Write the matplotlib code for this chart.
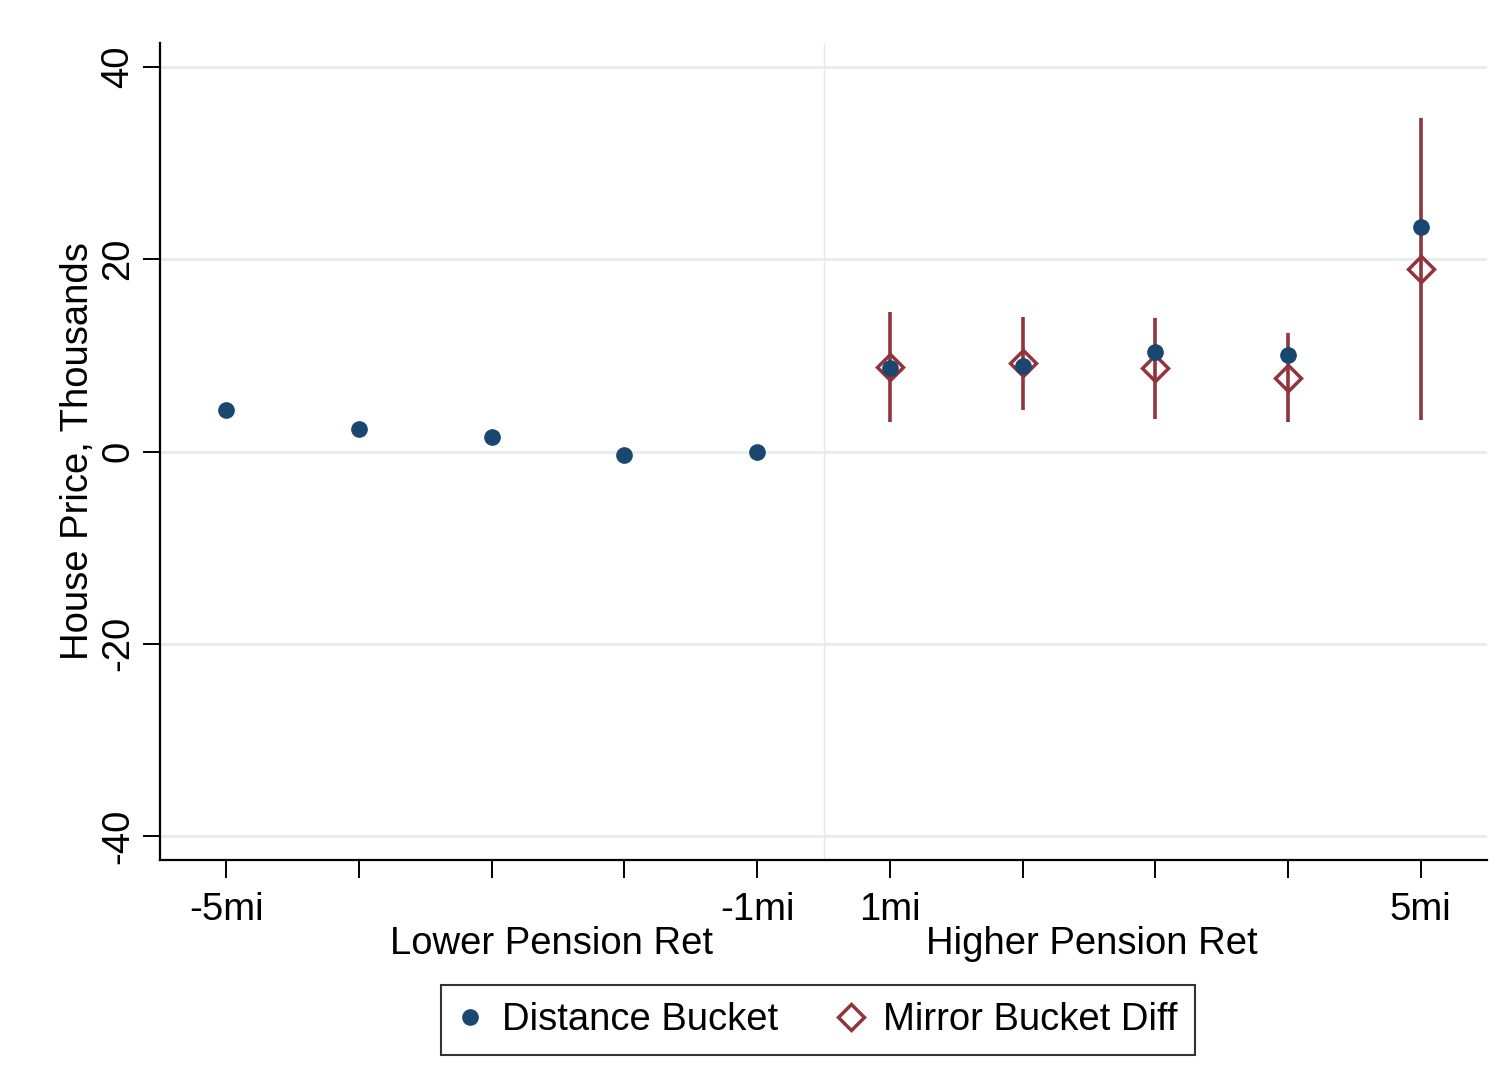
import numpy as np
import matplotlib.pyplot as plt
from matplotlib.transforms import blended_transform_factory

plt.rcParams['font.family'] = ['Liberation Sans', 'DejaVu Sans']

# данные
bucket_labels = ['-5mi', '', '', '', '-1mi', '1mi', '', '', '', '5mi']
distance_bucket = [4.3, 2.3, 1.5, -0.35, -0.05, 8.7, 8.85, 10.3, 10.0, 23.35]
mirror_pos = [6, 7, 8, 9, 10]
mirror_diff = [8.8, 9.2, 8.7, 7.6, 19.0]
mirror_lo = [3.05, 4.3, 3.4, 3.05, 3.3]
mirror_hi = [14.5, 14.0, 13.9, 12.3, 34.65]
y_ticks = [-40, -20, 0, 20, 40]

navy = '#1a476f'
maroon = '#90353b'
fs = 27.5

x = np.arange(1, len(distance_bucket) + 1)

fig = plt.figure(figsize=(15.12, 10.92), dpi=100)
ax = fig.add_axes([160/1512, 1 - 860/1092, (1487 - 160)/1512, (860 - 43)/1092])

# сетка
for yt in y_ticks:
    ax.axhline(yt, color='#e6eef0', lw=2, zorder=0)
ax.axvline(5.5, color='#e3e8ea', lw=1, zorder=0)

# доверительные интервалы, ромбы, точки
ax.vlines(mirror_pos, mirror_lo, mirror_hi, color=maroon, lw=2.6, zorder=2)
ax.plot(mirror_pos, mirror_diff, linestyle='none', marker='D', markersize=13.5,
        markerfacecolor='none', markeredgecolor=maroon, markeredgewidth=2.5,
        zorder=3, label='Mirror Bucket Diff')
ax.plot(x, distance_bucket, linestyle='none', marker='o', markersize=11,
        color=navy, zorder=4, label='Distance Bucket')

ax.set_xlim(0.5, 10.5)
ax.set_ylim(-42.5, 42.5)
ax.set_xticks(x)
ax.set_xticklabels(bucket_labels)
ax.set_yticks(y_ticks)
ax.set_yticklabels([str(v) for v in y_ticks], rotation=90, va='center')

for s in ['top', 'right']:
    ax.spines[s].set_visible(False)
for s in ['left', 'bottom']:
    ax.spines[s].set_linewidth(1.6)

ax.tick_params(axis='x', length=13, width=1.4, labelsize=fs, pad=10)
ax.tick_params(axis='y', length=12, width=1.4, labelsize=fs, pad=5)
ax.set_ylabel('House Price, Thousands', fontsize=fs, labelpad=3)

# подписи групп под осью
tr = blended_transform_factory(ax.transData, fig.transFigure)
ax.text(3.45, 1 - 944/1092, 'Lower Pension Ret', transform=tr,
        ha='center', va='center', fontsize=fs)
ax.text(7.52, 1 - 944/1092, 'Higher Pension Ret', transform=tr,
        ha='center', va='center', fontsize=fs)

h, l = ax.get_legend_handles_labels()
leg = fig.legend(h[::-1], l[::-1], loc='center', ncol=2,
                 bbox_to_anchor=(818/1512, 1 - 1020/1092), fontsize=fs,
                 frameon=True, fancybox=False, edgecolor='black',
                 handletextpad=0.55, columnspacing=1.6, borderpad=0.45,
                 handlelength=0.6, borderaxespad=0)
leg.get_frame().set_linewidth(1.5)

fig.savefig('out.png', dpi=100, facecolor='white')
